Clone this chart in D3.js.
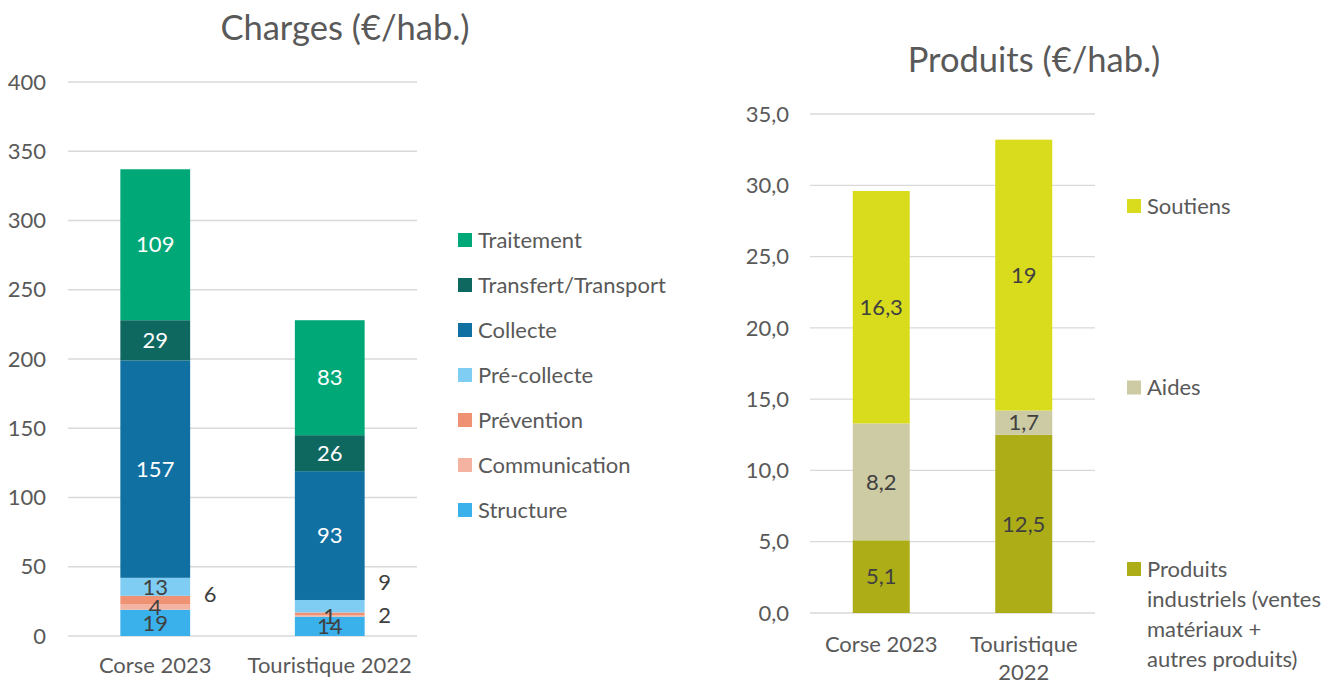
<!DOCTYPE html>
<html>
<head>
<meta charset="utf-8">
<script src="https://cdn.jsdelivr.net/npm/d3@7"></script>
<style>
  body { margin: 0; background: #fff; }
  text { font-family: Lato, "Open Sans", sans-serif; }
</style>
</head>
<body>
<script>
// data
var categories = ["Corse 2023", "Touristique 2022"];

var chargeSeries = ["Structure", "Communication", "Prévention", "Pré-collecte", "Collecte", "Transfert/Transport", "Traitement"];
var chargesCorse = [19, 4, 6, 13, 157, 29, 109];
var chargesTouristique = [14, 1, 2, 9, 93, 26, 83];
var chargeColors = ["#3bb1eb", "#f4b3a0", "#ef9274", "#80cdf3", "#1170a2", "#0e6860", "#00a878"];
var chargeTicks = [0, 50, 100, 150, 200, 250, 300, 350, 400];
// labels drawn beside the bar (value level in €/hab.)
var chargeOutside = [
  {cat: "Corse 2023", serie: "Prévention", at: 30},
  {cat: "Touristique 2022", serie: "Pré-collecte", at: 39},
  {cat: "Touristique 2022", serie: "Prévention", at: 15}
];
var chargeDarkLabels = ["Structure", "Communication", "Prévention", "Pré-collecte"];

var prodCategories = ["Corse 2023", "Touristique\n2022"];
var prodSeries = ["Produits industriels (ventes matériaux + autres produits)", "Aides", "Soutiens"];
var prodCorse = [5.1, 8.2, 16.3];
var prodTouristique = [12.5, 1.7, 19];
var prodColors = ["#adad18", "#cccba4", "#d9db1d"];
var prodTicks = [0, 5, 10, 15, 20, 25, 30, 35];

var textColor = "#595959", labelDark = "#404040", gridColor = "#d9d9d9";
var fs = 22;

var svg = d3.select("body").append("svg").attr("width", 1341).attr("height", 681);

function comma(v) { return String(v).replace(".", ","); }

// ---------- Charges ----------
var rowsC = categories.map(function(c, i) {
  var r = {cat: c};
  chargeSeries.forEach(function(s, j) { r[s] = (i == 0 ? chargesCorse : chargesTouristique)[j]; });
  return r;
});
var stackC = d3.stack().keys(chargeSeries)(rowsC);

var xC = d3.scaleBand().domain(categories).range([68, 417]).paddingInner(0.6).paddingOuter(0.3);
var yC = d3.scaleLinear().domain([0, 400]).range([636, 82]);

var gC = svg.append("g");
gC.selectAll("line.grid").data(chargeTicks).enter().append("line")
  .attr("x1", 68).attr("x2", 417)
  .attr("y1", function(d) { return yC(d); }).attr("y2", function(d) { return yC(d); })
  .attr("stroke", gridColor).attr("stroke-width", 1.3);
gC.selectAll("text.tick").data(chargeTicks).enter().append("text")
  .attr("x", 46).attr("y", function(d) { return yC(d); }).attr("dy", "0.35em")
  .attr("text-anchor", "end").attr("font-size", fs).attr("fill", textColor)
  .text(function(d) { return d; });

stackC.forEach(function(layer, j) {
  gC.selectAll("rect.s" + j).data(layer).enter().append("rect")
    .attr("x", function(d) { return xC(d.data.cat); })
    .attr("width", xC.bandwidth())
    .attr("y", function(d) { return yC(d[1]); })
    .attr("height", function(d) { return yC(d[0]) - yC(d[1]); })
    .attr("fill", chargeColors[j]);
});
stackC.forEach(function(layer) {
  layer.forEach(function(d) {
    var out = chargeOutside.filter(function(o) { return o.cat == d.data.cat && o.serie == layer.key; })[0];
    var dark = chargeDarkLabels.indexOf(layer.key) >= 0;
    gC.append("text")
      .attr("x", out ? xC(d.data.cat) + xC.bandwidth() + 20 : xC(d.data.cat) + xC.bandwidth() / 2)
      .attr("y", out ? yC(out.at) : yC((d[0] + d[1]) / 2))
      .attr("dy", "0.35em").attr("text-anchor", "middle").attr("font-size", fs)
      .attr("fill", dark ? labelDark : "#fff")
      .text(d[1] - d[0]);
  });
});
gC.selectAll("text.cat").data(categories).enter().append("text")
  .attr("x", function(d) { return xC(d) + xC.bandwidth() / 2; }).attr("y", 665).attr("dy", "0.35em")
  .attr("text-anchor", "middle").attr("font-size", fs).attr("fill", textColor)
  .text(function(d) { return d; });
gC.append("text").attr("x", 345).attr("y", 28).attr("dy", "0.35em")
  .attr("text-anchor", "middle").attr("font-size", 34.5).attr("fill", textColor)
  .text("Charges (€/hab.)");

var legC = gC.selectAll("g.leg").data(chargeSeries.slice().reverse()).enter().append("g")
  .attr("transform", function(d, i) { return "translate(458," + (240 + i * 45) + ")"; });
legC.append("rect").attr("x", 0).attr("y", -7).attr("width", 14).attr("height", 14)
  .attr("fill", function(d) { return chargeColors[chargeSeries.indexOf(d)]; });
legC.append("text").attr("x", 20).attr("dy", "0.35em").attr("font-size", fs).attr("fill", textColor)
  .text(function(d) { return d; });

// ---------- Produits ----------
var rowsP = prodCategories.map(function(c, i) {
  var r = {cat: c};
  prodSeries.forEach(function(s, j) { r[s] = (i == 0 ? prodCorse : prodTouristique)[j]; });
  return r;
});
var stackP = d3.stack().keys(prodSeries)(rowsP);

var xP = d3.scaleBand().domain(prodCategories).range([810, 1095]).paddingInner(0.6).paddingOuter(0.3);
var yP = d3.scaleLinear().domain([0, 35]).range([613, 114]);

var gP = svg.append("g");
gP.selectAll("line.grid").data(prodTicks).enter().append("line")
  .attr("x1", 810).attr("x2", 1095)
  .attr("y1", function(d) { return yP(d); }).attr("y2", function(d) { return yP(d); })
  .attr("stroke", gridColor).attr("stroke-width", 1.3);
gP.selectAll("text.tick").data(prodTicks).enter().append("text")
  .attr("x", 789).attr("y", function(d) { return yP(d); }).attr("dy", "0.35em")
  .attr("text-anchor", "end").attr("font-size", fs).attr("fill", textColor)
  .text(function(d) { return d3.format(".1f")(d).replace(".", ","); });

stackP.forEach(function(layer, j) {
  gP.selectAll("rect.s" + j).data(layer).enter().append("rect")
    .attr("x", function(d) { return xP(d.data.cat); })
    .attr("width", xP.bandwidth())
    .attr("y", function(d) { return yP(d[1]); })
    .attr("height", function(d) { return yP(d[0]) - yP(d[1]); })
    .attr("fill", prodColors[j]);
  gP.selectAll("text.s" + j).data(layer).enter().append("text")
    .attr("x", function(d) { return xP(d.data.cat) + xP.bandwidth() / 2; })
    .attr("y", function(d) { return yP((d[0] + d[1]) / 2); })
    .attr("dy", "0.35em").attr("text-anchor", "middle").attr("font-size", fs).attr("fill", labelDark)
    .text(function(d) { return comma(Math.round((d[1] - d[0]) * 10) / 10); });
});
gP.selectAll("text.cat").data(prodCategories).enter().append("text")
  .attr("x", function(d) { return xP(d) + xP.bandwidth() / 2; }).attr("y", 644)
  .attr("text-anchor", "middle").attr("font-size", fs).attr("fill", textColor)
  .each(function(d) {
    var t = d3.select(this);
    d.split("\n").forEach(function(line, k) {
      t.append("tspan").attr("x", t.attr("x")).attr("dy", k == 0 ? "0.35em" : 28).text(line);
    });
  });
gP.append("text").attr("x", 1034).attr("y", 60).attr("dy", "0.35em")
  .attr("text-anchor", "middle").attr("font-size", 34.5).attr("fill", textColor)
  .text("Produits (€/hab.)");

var prodLegendLines = [["Soutiens"], ["Aides"], ["Produits", "industriels (ventes", "matériaux +", "autres produits)"]];
var legP = gP.selectAll("g.leg").data([2, 1, 0]).enter().append("g")
  .attr("transform", function(d, i) { return "translate(1127," + (206 + i * 181.5) + ")"; });
legP.append("rect").attr("x", 0).attr("y", -7).attr("width", 14).attr("height", 14)
  .attr("fill", function(d) { return prodColors[d]; });
legP.append("text").attr("font-size", fs).attr("fill", textColor)
  .each(function(d, i) {
    var t = d3.select(this);
    prodLegendLines[i].forEach(function(line, k) {
      t.append("tspan").attr("x", 20).attr("dy", k == 0 ? "0.35em" : 30).text(line);
    });
  });
</script>
</body>
</html>
